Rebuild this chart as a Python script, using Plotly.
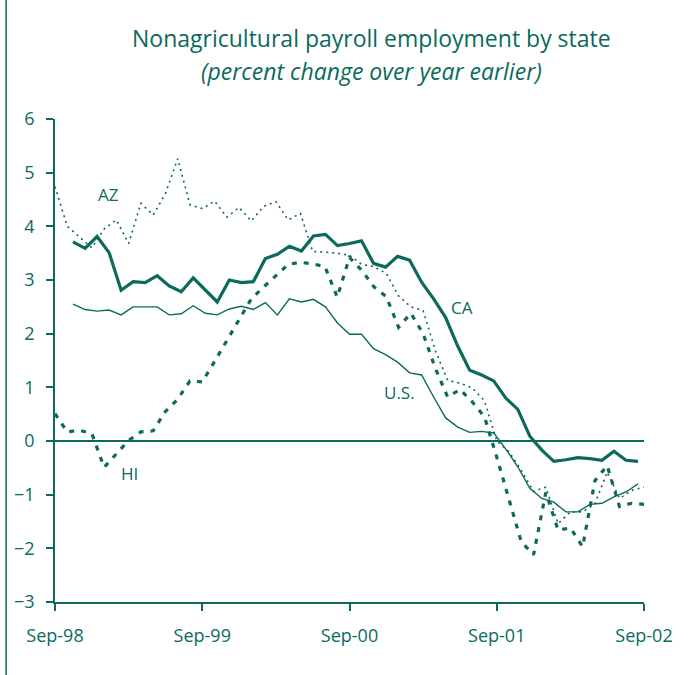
import plotly.graph_objects as go

TEAL = "#0b6a5c"
FONT = "'Open Sans', sans-serif"

# tick labels on the monthly axis (Sep-98 = 0 ... Sep-02 = 48)
TICK_POS = [0, 12, 24, 36, 48]
TICK_TEXT = ["Sep-98", "Sep-99", "Sep-00", "Sep-01", "Sep-02"]

# AZ and HI: monthly, Sep-98 .. Sep-02
MONTHS = list(range(49))
AZ = [4.74, 4.00, 3.80, 3.60, 3.95, 4.12, 3.68, 4.43, 4.21, 4.61,
      5.26, 4.40, 4.33, 4.47, 4.17, 4.35, 4.10, 4.37, 4.46, 4.12,
      4.24, 3.53, 3.52, 3.50, 3.46, 3.29, 3.25, 3.12, 2.70, 2.50,
      2.43, 1.68, 1.13, 1.08, 0.99, 0.75, 0.00, -0.20, -0.55, -0.94,
      -0.86, -1.54, -1.32, -1.32, -1.17, -0.58, -1.07, -0.92, -0.86]
HI = [0.51, 0.17, 0.20, 0.14, -0.49, -0.24, 0.01, 0.17, 0.19, 0.55,
      0.78, 1.12, 1.10, 1.48, 1.87, 2.26, 2.65, 2.87, 3.09, 3.29,
      3.33, 3.30, 3.25, 2.68, 3.42, 3.18, 2.87, 2.69, 2.12, 2.38,
      2.00, 1.35, 0.82, 0.96, 0.73, 0.45, -0.30, -1.10, -1.88, -2.12,
      -0.96, -1.66, -1.62, -1.97, -0.74, -0.46, -1.22, -1.16, -1.18]

# CA and U.S.: plotted on a second category axis (points between ticks), Oct-98 .. Sep-02
CATS = list(range(1, 49))
CA = [3.71, 3.59, 3.81, 3.51, 2.81, 2.97, 2.95, 3.08, 2.89, 2.78,
      3.04, 2.81, 2.59, 3.00, 2.95, 2.97, 3.40, 3.48, 3.63, 3.54,
      3.82, 3.85, 3.64, 3.68, 3.73, 3.31, 3.24, 3.44, 3.37, 2.96,
      2.65, 2.30, 1.77, 1.32, 1.23, 1.12, 0.80, 0.59, 0.09, -0.17,
      -0.38, -0.35, -0.31, -0.33, -0.36, -0.19, -0.36, -0.38]
US = [2.55, 2.45, 2.42, 2.44, 2.35, 2.50, 2.50, 2.50, 2.35, 2.37,
      2.52, 2.38, 2.35, 2.46, 2.51, 2.45, 2.58, 2.35, 2.65, 2.59,
      2.64, 2.50, 2.20, 1.99, 1.99, 1.72, 1.61, 1.47, 1.27, 1.23,
      0.82, 0.43, 0.26, 0.16, 0.18, 0.15, -0.15, -0.48, -0.88, -1.07,
      -1.14, -1.32, -1.32, -1.18, -1.16, -1.04, -0.95, -0.80]

fig = go.Figure()

fig.add_trace(go.Scatter(x=MONTHS, y=AZ, mode="lines", name="AZ",
                         line=dict(color=TEAL, width=1.6, dash="2px,4px")))
fig.add_trace(go.Scatter(x=MONTHS, y=HI, mode="lines", name="HI",
                         line=dict(color=TEAL, width=3.2, dash="5px,7px")))
fig.add_trace(go.Scatter(x=CATS, y=US, mode="lines", name="U.S.", xaxis="x2",
                         line=dict(color=TEAL, width=1.4)))
fig.add_trace(go.Scatter(x=CATS, y=CA, mode="lines", name="CA", xaxis="x2",
                         line=dict(color=TEAL, width=3.2)))

# series labels
for txt, x, y in [("AZ", 4.4, 4.60), ("HI", 6.1, -0.61),
                  ("CA", 33.2, 2.49), ("U.S.", 28.05, 0.90)]:
    fig.add_annotation(x=x, y=y, text=txt, showarrow=False,
                       font=dict(size=17, color=TEAL, family=FONT))

# title
fig.add_annotation(x=0.538, y=1.168, xref="paper", yref="paper", yanchor="middle",
                   text="Nonagricultural payroll employment by state",
                   showarrow=False, font=dict(size=23, color=TEAL, family=FONT))
fig.add_annotation(x=0.538, y=1.099, xref="paper", yref="paper", yanchor="middle",
                   text="<i>(percent change over year earlier)</i>",
                   showarrow=False, font=dict(size=23, color=TEAL, family=FONT))

# left frame rule
fig.add_shape(type="line", xref="paper", yref="paper",
              x0=-0.083, x1=-0.083, y0=-0.16, y1=1.26,
              line=dict(color=TEAL, width=1.5))

fig.update_layout(
    width=695, height=675,
    paper_bgcolor="white", plot_bgcolor="white",
    font=dict(family=FONT, color=TEAL, size=17),
    showlegend=False,
    margin=dict(l=55, r=51, t=119, b=73),
    xaxis=dict(range=[0, 48], tickvals=TICK_POS, ticktext=TICK_TEXT,
               automargin=False,
               showgrid=False, zeroline=False, showline=True,
               linecolor=TEAL, linewidth=1.5, ticks="outside",
               ticklen=7, tickwidth=1.5, tickcolor=TEAL,
               ticklabelstandoff=10, tickfont=dict(size=18)),
    xaxis2=dict(range=[-0.5, 48.5], overlaying="x", visible=False),
    yaxis=dict(range=[-3, 6], dtick=1, showgrid=False, automargin=False,
               zeroline=True, zerolinecolor=TEAL, zerolinewidth=1.5,
               showline=True, linecolor=TEAL, linewidth=1.5,
               ticks="outside", ticklen=7, tickwidth=1.5, tickcolor=TEAL,
               ticklabelstandoff=8, tickfont=dict(size=18)),
)

fig.write_html("out.html", config={"displayModeBar": False},
               post_script="document.body.style.margin='0';")
